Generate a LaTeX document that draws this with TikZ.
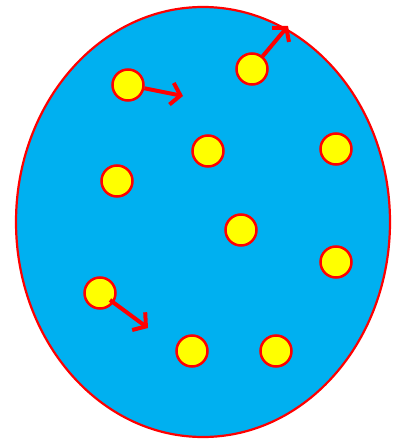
\documentclass[tikz,border=0pt]{standalone}
\usetikzlibrary{arrows.meta}
\definecolor{sea}{RGB}{0,176,240}
\definecolor{ball}{RGB}{255,255,0}
\definecolor{rim}{RGB}{255,0,0}
\begin{document}
\begin{tikzpicture}[x=1pt,y=-1pt,
  particle/.style={circle,draw=rim,fill=ball,line width=2.5pt,minimum size=31pt,inner sep=0pt},
  motion/.style={draw=rim,line width=4pt,-{Straight Barb[length=9pt,width=22pt,line width=4pt]}}]
\useasboundingbox (0,0) rectangle (398,439);
\draw[rim,fill=sea,line width=2.2pt] (203,222) ellipse [x radius=187, y radius=215];
\node[particle] (c1) at (128,85) {};
\node[particle] (c2) at (252,69) {};
\node[particle] (c3) at (208,151) {};
\node[particle] (c4) at (336,149) {};
\node[particle] (c5) at (117,181) {};
\node[particle] (c6) at (241,230) {};
\node[particle] (c7) at (336,262) {};
\node[particle] (c8) at (100,293) {};
\node[particle] (c9) at (192,351) {};
\node[particle] (c10) at (276,351) {};
\coordinate (t1) at (183,96);
\coordinate (t2) at (288,26);
\coordinate (t8) at (148,328);
\coordinate (s8) at (110,300);
\draw[motion] (c1) -- (t1);
\draw[motion] (c2) -- (t2);
\draw[motion] (s8) -- (t8);
\end{tikzpicture}
\end{document}
